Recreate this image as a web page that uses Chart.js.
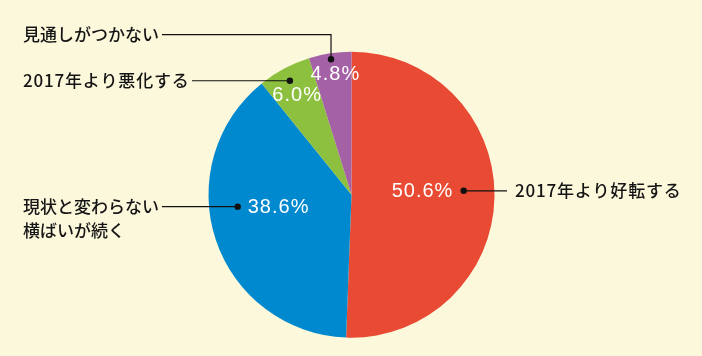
<!DOCTYPE html>
<html>
<head>
<meta charset="utf-8">
<script src="https://cdn.jsdelivr.net/npm/chart.js@4/dist/chart.umd.min.js"></script>
<style>
  html, body { margin: 0; padding: 0; background: #FCF8DC; }
  #wrap { width: 702px; height: 356px; position: relative; }
</style>
</head>
<body>
<div id="wrap"><canvas id="c"></canvas></div>
<script>
// ---- data ----
const categories = ['2017年より好転する', '現状と変わらない横ばいが続く', '2017年より悪化する', '見通しがつかない'];
const labelLines = [['2017年より好転する'], ['現状と変わらない', '横ばいが続く'], ['2017年より悪化する'], ['見通しがつかない']];
const values = [50.6, 38.6, 6.0, 4.8];
const valueLabels = ['50.6%', '38.6%', '6.0%', '4.8%'];
const colors = ['#E84A33', '#0089CF', '#8CC03E', '#A561A6'];

// ---- label layout (polar offsets relative to the pie, as fraction of radius) ----
const layoutSpec = [
  { txtA: -3.4, txtR: 0.494, dotA: -2.0, dotR: 0.785, side: 'right', lineX: 507, textX: 515, spacing: 0.8 },
  { txtA: 170.9, txtR: 0.52, dotA: 174.0, dotR: 0.80, side: 'left', lineX: 162, textX: 23, spacing: 0 },
  { txtA: -118.8, txtR: 0.796, dotA: -118.4, dotR: 0.906, side: 'left', lineX: 192, textX: 23, spacing: 0.8 },
  { txtA: -97.8, txtR: 0.855, dotA: -98.6, dotR: 0.958, side: 'elbow', lineX: 162, textX: 23, elbowY: 34.7, spacing: 0 }
];

function spacedWidth(ctx, str, spacing) {
  let w = 0, n = 0;
  for (const ch of str) { w += ctx.measureText(ch).width; n++; }
  return w + spacing * (n - 1);
}
function drawSpaced(ctx, str, x, y, spacing) {
  let cx = x;
  for (const ch of str) {
    ctx.fillText(ch, cx, y);
    cx += ctx.measureText(ch).width + spacing;
  }
}

const labelPlugin = {
  id: 'pieLabels',
  afterDatasetsDraw(chart) {
    const ctx = chart.ctx;
    const arcs = chart.getDatasetMeta(0).data;
    const cx = arcs[0].x, cy = arcs[0].y, R = arcs[0].outerRadius;
    const pt = (a, r) => [cx + Math.cos(a * Math.PI / 180) * r * R, cy + Math.sin(a * Math.PI / 180) * r * R];
    ctx.save();
    arcs.forEach((arc, i) => {
      const s = layoutSpec[i];
      const [tx, ty] = pt(s.txtA, s.txtR);
      const [dx, dy] = pt(s.dotA, s.dotR);
      // percentage
      ctx.fillStyle = '#FFFFFF';
      ctx.font = '20px "Liberation Sans"';
      ctx.textAlign = 'left';
      ctx.textBaseline = 'middle';
      const pw = spacedWidth(ctx, valueLabels[i], 1);
      drawSpaced(ctx, valueLabels[i], tx - pw / 2, ty + 1, 1);
      // leader line
      ctx.strokeStyle = '#111111';
      ctx.lineWidth = 1.2;
      ctx.beginPath();
      if (s.side === 'right') {
        ctx.moveTo(dx, dy); ctx.lineTo(s.lineX, dy);
      } else if (s.side === 'left') {
        ctx.moveTo(s.lineX, dy); ctx.lineTo(dx, dy);
      } else {
        ctx.moveTo(s.lineX, s.elbowY); ctx.lineTo(dx, s.elbowY); ctx.lineTo(dx, dy);
      }
      ctx.stroke();
      // dot
      ctx.fillStyle = '#111111';
      ctx.beginPath();
      ctx.arc(dx, dy, 3.2, 0, Math.PI * 2);
      ctx.fill();
      // category text
      ctx.fillStyle = '#151515';
      ctx.font = '500 17px "Noto Sans CJK JP"';
      ctx.textAlign = 'left';
      ctx.textBaseline = 'middle';
      const baseY = s.side === 'elbow' ? s.elbowY : dy;
      labelLines[i].forEach((line, k) => {
        drawSpaced(ctx, line, s.textX, baseY + k * 24, s.spacing);
      });
    });
    ctx.restore();
  }
};

new Chart(document.getElementById('c'), {
  type: 'pie',
  data: {
    labels: categories,
    datasets: [{
      data: values,
      backgroundColor: colors,
      borderWidth: 0
    }]
  },
  options: {
    responsive: true,
    maintainAspectRatio: false,
    animation: false,
    layout: { padding: { left: 208.5, right: 207.5, top: 51.7, bottom: 18.3 } },
    plugins: { legend: { display: false }, tooltip: { enabled: false } }
  },
  plugins: [labelPlugin]
});
</script>
</body>
</html>
